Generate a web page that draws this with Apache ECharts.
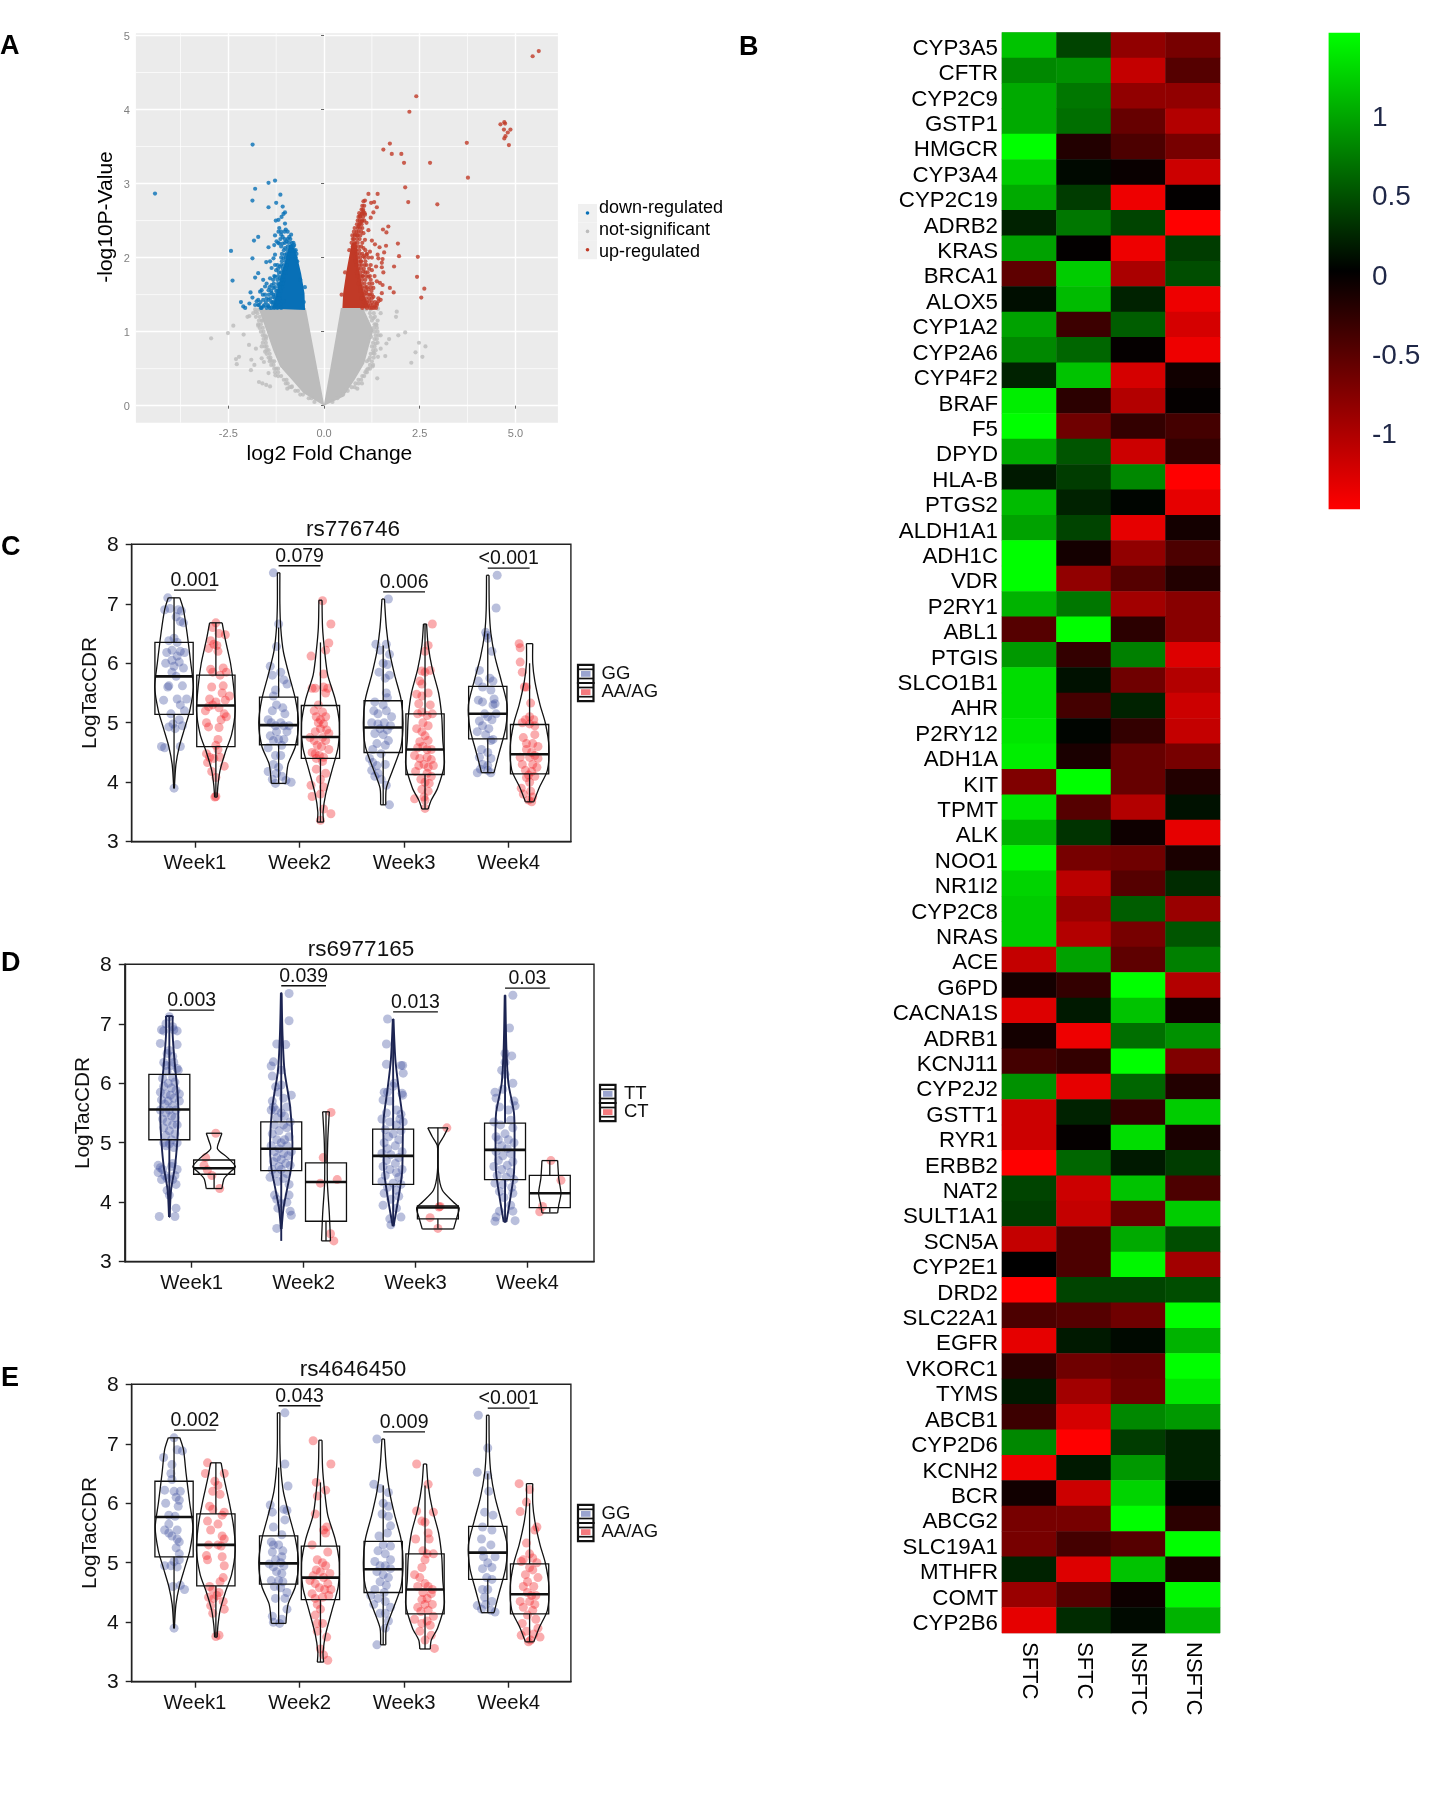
<!DOCTYPE html>
<html><head><meta charset="utf-8">
<script src="https://cdn.jsdelivr.net/npm/echarts@6/dist/echarts.min.js"></script>
<style>html,body{margin:0;padding:0;background:#fff}#c{width:1451px;height:1795px}</style></head>
<body><div id="c"></div>
<script>
// ---------- Panel A data (log2FC, -log10P) ----------
const volcanoXTicks=[-2.5,0,2.5,5];
const volcanoYTicks=[0,1,2,3,4,5];
const volcanoMinorX=[-3.75,-1.25,1.25,3.75];
const volcanoMinorY=[0.5,1.5,2.5,3.5,4.5];
const volcanoNames=['down-regulated','not-significant','up-regulated'];
const grayMass=[[0,0],[-.54,.17],[-.84,.35],[-1.15,.53],[-1.33,.75],[-1.51,1.02],[-1.7,1.3],[-.476,1.32],[0,0.02],[.44,1.32],[1.02,1.32],[1.29,1.02],[1.17,.8],[1.05,.57],[.8,.35],[.5,.12]];
const blueMass=[[-.496,1.293],[-.51,1.52],[-.6,1.79],[-.71,2.03],[-.83,2.19],[-.91,2.17],[-1,1.97],[-1.11,1.79],[-1.2,1.61],[-1.28,1.45],[-1.36,1.31]];
const redMass=[[.48,1.32],[.5,1.52],[.59,1.83],[.72,2.19],[.85,2.22],[.9,1.88],[.98,1.65],[1.07,1.47],[1.2,1.32]];
const grayPts=[[-2.95,.91],[-2.51,.98],[-2.37,1.08],[-2.1,.96],[-2,1.2],[-1.95,1.21],[-1.78,1.27],[-1.96,.82],[-1.78,.77],[-2.22,.66],[-2.3,.63],[-2.28,.56],[-1.9,.62],[-1.82,.55],[-1.91,.48],[-1.7,.32],[-1.61,.3],[-1.51,.28],[-1.41,.26],[-1.57,.59],[-1.63,.64],[-1.45,.44],[-1.27,.41],[-.96,.23],[-.84,.26],[-1.2,.5],[-1.63,.8],[-1.54,.73],[-1.51,.93],[-1.62,1.15],[-1.4,.62],[-1.3,.6],[-1.72,1.08],[1.9,1.27],[1.88,1.2],[2.12,.99],[1.94,.95],[2.48,.85],[2.65,.8],[2.39,.72],[2.57,.66],[2.28,.58],[1.39,.37],[1.6,.67],[1.7,.9],[1.63,.84],[1.48,.77],[1.29,.71],[1.48,.95],[1.37,1.09],[1.23,.93],[1.35,.84],[1.17,.62],[1.27,.53],[1.11,.48],[.99,.3],[.87,.23],[1.41,.66],[1.29,1.18],[1.48,1.25],[1.41,1.31]];
const bluePts=[[-4.416,2.865],[-1.866,3.527],[-1.28,3.04],[-1.45,3.01],[-1.8,2.93],[-1.14,2.85],[-1.87,2.77],[-1.25,2.74],[-1.45,2.68],[-1.08,2.69],[-1.02,2.61],[-1.06,2.59],[-1.11,2.55],[-1.19,2.51],[-1.26,2.5],[-1.02,2.46],[-1,2.38],[-1.17,2.4],[-1.19,2.35],[-.86,2.31],[-.91,2.28],[-1.12,2.31],[-1.08,2.28],[-1.72,2.28],[-1.83,2.23],[-1.28,2.3],[-1.24,2.22],[-1.3,2.17],[-1.17,2.19],[-1.08,2.19],[-1.45,2.14],[-2.43,2.09],[-1.02,2.13],[-1.28,2.04],[-1.32,1.99],[-1.87,1.99],[-1.06,1.99],[-1.41,1.95],[-1.51,1.94],[-1.28,1.9],[-1.37,1.86],[-1.15,1.88],[-1.25,1.83],[-1.72,1.79],[-1.06,1.81],[-1.8,1.73],[-2.39,1.69],[-1.59,1.7],[-1.28,1.74],[-1.15,1.72],[-1.41,1.72],[-1.5,1.65],[-1.37,1.63],[-1.54,1.61],[-1.19,1.63],[-1.63,1.56],[-1.45,1.56],[-1.32,1.59],[-1.92,1.53],[-1.67,1.54],[-1.37,1.52],[-1.87,1.46],[-1.54,1.5],[-1.32,1.47],[-1.72,1.43],[-2.17,1.4],[-1.76,1.41],[-1.59,1.43],[-1.45,1.43],[-1.24,1.41],[-1.95,1.38],[-1.8,1.36],[-2.11,1.34],[-2.06,1.32],[-1.72,1.36],[-1.59,1.34],[-1.63,1.32],[-1.45,1.34],[-1.37,1.32],[-1.5,1.32],[-1.28,1.34],[-1.15,1.36],[-1.06,1.41],[-.98,2.22],[-.78,2.17],[-.76,2.08],[-.89,2.1],[-1.02,2.04],[-.97,1.9],[-1.02,1.85],[-1.1,1.66],[-1.2,1.5],[-1.35,1.4],[-.94,2.0],[-.7,1.95],[-.62,1.7],[-.53,1.4],[-.5,1.6]];
const redPts=[[5.61,4.79],[5.45,4.72],[2.41,4.18],[2.23,3.97],[4.71,3.83],[4.73,3.81],[4.61,3.8],[4.87,3.73],[4.7,3.73],[4.8,3.69],[4.74,3.64],[4.71,3.61],[4.83,3.52],[3.73,3.55],[1.72,3.54],[1.55,3.46],[1.77,3.4],[2.02,3.4],[2.09,3.28],[2.77,3.28],[3.76,3.08],[2.12,2.95],[1.16,2.86],[1.4,2.86],[2.2,2.75],[2.96,2.72],[1.07,2.77],[1.03,2.76],[1.23,2.74],[1.31,2.75],[1.38,2.68],[1.29,2.61],[1.03,2.62],[.98,2.59],[.94,2.56],[1.07,2.58],[1.22,2.54],[.99,2.49],[.94,2.46],[.9,2.42],[1.11,2.47],[1.68,2.42],[1.54,2.38],[1.63,2.34],[1.16,2.37],[.85,2.35],[.81,2.31],[1.03,2.33],[1.07,2.24],[1.25,2.23],[1.33,2.18],[1.45,2.14],[1.62,2.16],[1.93,2.19],[1.57,2.07],[1.96,2.02],[1.2,2.08],[1.03,2.13],[2.45,2.01],[1.4,2.04],[1.53,1.98],[1.25,2],[1.11,2.04],[1.42,1.99],[1.03,2.02],[1.51,1.93],[1.36,1.88],[1.25,1.83],[1.83,1.88],[1.51,1.87],[1.11,1.9],[1.55,1.8],[1.32,1.75],[2.43,1.74],[1.03,1.81],[1.16,1.74],[1.38,1.68],[1.18,1.65],[1.46,1.66],[1.53,1.63],[1.29,1.59],[1.16,1.57],[1.72,1.59],[1.82,1.53],[2.62,1.58],[2.54,1.46],[1.51,1.52],[1.42,1.45],[1.2,1.5],[1.29,1.47],[1.1,1.52],[1.48,1.43],[1.18,1.41],[1.38,1.38],[1.33,1.34],[1.25,1.32],[1.16,1.36],[1.03,1.41],[1.42,1.41],[1.07,1.34],[.93,2.05],[.96,1.95],[1,1.75],[1.08,1.6],[.88,2.3],[.75,2.25],[.66,2.1],[.55,1.8],[.46,1.5]];
// dense fringes, one row per level: [-log10P, log2FC, log2FC, ...]
const blueRows=[[1.32,-1.3,-1.22,-1.12,-1.65,-1.42],[1.36,-1.33,-1.47,-1.56,-1.7],[1.4,-1.38,-1.3,-1.2,-1.52,-1.66],[1.45,-1.28,-1.17,-1.4,-1.5],[1.5,-1.26,-1.16,-1.33,-1.44,-1.6],[1.55,-1.25,-1.13,-1.38,-1.22],[1.6,-1.1,-1.17,-1.28,-1.42],[1.65,-1.08,-1.2,-1.31,-1.14],[1.7,-1.22,-1.06,-1.12,-1.33],[1.75,-1.05,-1.1,-1.2,-1.3],[1.8,-1,-1.12,-1.18],[1.85,-1.01,-1.08,-1.2],[1.9,-.98,-1.05,-1.12,-1.22],[1.95,-.96,-1,-1.1],[2,-.95,-1,-1.12,-.74],[2.05,-.92,-.97,-1.1,-.72],[2.1,-.85,-.95,-1.05,-.79,-.74],[2.15,-.8,-.87,-.95,-1.12],[2.2,-.84,-.92,-1.02,-1.2,-.8],[2.25,-.88,-.95,-1.03,-1.14],[2.35,-1.03,-1.12,-.95]];
const redRows=[[1.32,1.12,1.3,1.36,1.2,1],[1.36,1.1,1.22,1.28,1.38],[1.4,1.05,1.12,1.25,1.33],[1.45,1.1,1.18,1.25,.98],[1.5,1,1.05,1.15,1.25],[1.55,.95,1.03,1.1,1.24],[1.6,.95,1,1.12,1.22],[1.65,.9,.98,1.06,1.26],[1.7,.92,1,1.08,1.22],[1.75,.88,.95,1.02,1.1,1.2],[1.8,.86,.95,1.08,1.14],[1.85,.9,.96,1.04,1.18],[1.9,.85,.93,.98,1.06,1.22],[1.95,.82,.9,.97,1.08],[2,.82,.88,.95,1.06,1.16],[2.05,.8,.86,1,1.12],[2.1,.78,.84,.92,1.08],[2.15,.75,.82,.9,.97],[2.2,.72,.8,.88,1],[2.25,.78,.86,.93],[2.3,.74,.8,.87,.95],[2.35,.78,.9,.97],[2.4,.8,.88,.94,1],[2.45,.86,.92,.98],[2.5,.88,.93,1,1.05],[2.55,.9,.95,1.02],[2.6,.92,1,1.06],[2.65,.98,1.02],[2.7,1,1.05]];
const grayRows=[[.05,-.25,.22],[.1,-.4,.35,-.33],[.15,-.62,.5,-.55],[.2,-.75,.62,-.68,.55],[.25,-.85,.72,-.9,.8],[.3,-1,.82,-.95,.9],[.35,-1.05,.9,-.98,.97],[.4,-1.12,1,-1.2,1.05],[.45,-1.2,1.08,-1.28,1.12],[.5,-1.25,1.15,-1.3,1.2],[.55,-1.32,1.2,-1.38,1.28],[.6,-1.35,1.25,-1.42,1.12],[.65,-1.4,1.3,-1.45,1.2],[.7,-1.42,1.22,-1.5,1.32],[.75,-1.45,1.28,-1.5,1.35],[.8,-1.5,1.25,-1.55,1.32],[.85,-1.52,1.28,-1.6,1.4],[.9,-1.58,1.32,-1.52,1.38],[.95,-1.6,1.35,-1.55,1.42],[1,-1.58,1.32,-1.65,1.4],[1.05,-1.6,1.3,-1.68,1.38],[1.1,-1.65,1.32,-1.72,1.36],[1.15,-1.7,1.25,-1.62,1.4],[1.2,-1.78,1.22,-1.68,1.33],[1.25,-1.74,1.2,-1.85,1.3],[1.3,-1.8,1.22,-1.7,1.1]];

// ---------- Panel B data ----------
const genes=['CYP3A5','CFTR','CYP2C9','GSTP1','HMGCR','CYP3A4','CYP2C19','ADRB2','KRAS','BRCA1','ALOX5','CYP1A2','CYP2A6','CYP4F2','BRAF','F5','DPYD','HLA-B','PTGS2','ALDH1A1','ADH1C','VDR','P2RY1','ABL1','PTGIS','SLCO1B1','AHR','P2RY12','ADH1A','KIT','TPMT','ALK','NOO1','NR1I2','CYP2C8','NRAS','ACE','G6PD','CACNA1S','ADRB1','KCNJ11','CYP2J2','GSTT1','RYR1','ERBB2','NAT2','SULT1A1','SCN5A','CYP2E1','DRD2','SLC22A1','EGFR','VKORC1','TYMS','ABCB1','CYP2D6','KCNH2','BCR','ABCG2','SLC19A1','MTHFR','COMT','CYP2B6'];
const sampleNames=['SFTC','SFTC ','NSFTC','NSFTC '];
const heatValues=[[1.15,.4,-.85,-.7],[.8,.85,-1.15,-.5],[1,.7,-.85,-.85],[1,.65,-.6,-1.05],[1.5,-.2,-.45,-.7],[1.2,.05,-.05,-1.2],[1,.35,-1.4,-.02],[.2,.7,.4,-1.5],[.95,-.02,-1.4,.35],[-.55,1.2,-1,.45],[.08,1.1,.2,-1.4],[.95,-.35,.55,-1.25],[.8,.6,-.03,-1.4],[.2,1.15,-1.25,-.1],[1.4,-.25,-1.05,-.03],[1.5,-.65,-.3,-.4],[1,.5,-1.2,-.3],[.15,.35,.8,-1.5],[1.1,.2,.03,-1.35],[.95,.4,-1.35,-.12],[1.5,-.12,-.85,-.45],[1.5,-.85,-.5,-.2],[1.05,.7,-.95,-.8],[-.5,1.5,-.25,-.8],[.9,-.3,.75,-1.3],[1.3,.1,-.65,-1.05],[1.3,-.4,.2,-1.2],[1.35,.03,-.3,-1.15],[1.4,-.15,-.6,-.7],[-.75,1.5,-.6,-.2],[1.35,-.5,-1.05,.1],[1.05,.3,-.08,-1.35],[1.45,-.7,-.65,-.15],[1.25,-1.1,-.5,.25],[1.2,-.9,.55,-.9],[1.2,-1.05,-.7,.5],[-1.15,.95,-.55,.75],[-.12,-.3,1.5,-1.05],[-1.3,.15,1.15,-.1],[-.12,-1.4,.65,.85],[-.4,-.3,1.5,-.75],[.85,-1.35,.6,-.2],[-1.2,.2,-.3,1.2],[-1.2,-.03,1.3,-.15],[-1.5,.6,.15,.35],[.4,-1.2,1.15,-.45],[.35,-1.15,-.6,1.2],[-1.15,-.45,1,.45],[0,-.45,1.45,-.95],[-1.5,.4,.4,.45],[-.45,-.5,-.65,1.5],[-1.35,.15,.05,1.05],[-.25,-.65,-.6,1.5],[.15,-.95,-.65,1.35],[-.35,-1.25,.8,.9],[.8,-1.5,.35,.2],[-1.4,.15,.9,.2],[-.1,-1.2,1.25,.03],[-.7,-.7,1.5,-.25],[-.7,-.4,-.5,1.5],[.2,-1.3,1.15,-.15],[-.9,-.5,-.08,1.45],[-1.35,.25,.06,1.05]];
const colorbarTicks=[-1,-.5,0,.5,1];
const colorbarRange=[-1.49,1.52];

// ---------- Panels C, D, E data ----------
const weeks=['Week1','Week2','Week3','Week4'];
const cTitle='rs776746', dTitle='rs6977165', eTitle='rs4646450';
const cGroups=['GG','AA/AG'], dGroups=['TT','CT'], eGroups=['GG','AA/AG'];
const cPLabels=['0.001','0.079','0.006','<0.001'];
const dPLabels=['0.003','0.039','0.013','0.03'];
const ePLabels=['0.002','0.043','0.009','<0.001'];
const pLineLevels=[7.23,7.64,7.2,7.6];
// box summaries: [low whisker, q1, median, q3, high whisker], order W1a,W1b,W2a,W2b...
const cBoxes=[[3.9,5.14,5.78,6.35,7.1],[3.76,4.6,5.29,5.8,6.68],[3.98,4.63,4.96,5.43,6.6],[3.33,4.4,4.76,5.29,6.35],[3.62,4.5,4.92,5.37,6.3],[3.55,4.13,4.55,5.15,6.66],[4.16,4.73,5.15,5.61,6.5],[3.67,4.14,4.47,4.97,6.0]];
const dBoxes=[[3.75,5.05,5.56,6.15,7.12],[4.23,4.47,4.57,4.71,4.71],[3.35,4.53,4.9,5.35,7.5],[3.35,3.68,4.34,4.66,5.52],[3.6,4.3,4.78,5.23,7.08],[3.56,3.72,3.91,3.94,5.25],[3.67,4.38,4.88,5.33,7.48],[3.83,3.91,4.15,4.45,4.7]];
const eBoxes=[[3.9,5.1,5.77,6.37,7.1],[3.76,4.61,5.3,5.82,6.68],[3.98,4.64,4.99,5.45,6.6],[3.33,4.38,4.75,5.28,6.35],[3.62,4.5,4.89,5.36,6.3],[3.55,4.14,4.55,5.15,6.3],[4.16,4.72,5.17,5.61,6.5],[3.67,4.14,4.47,4.98,6.0]];
// violin outlines: [value, half width]
const cViolins=[
[[7.1,.055],[6.9,.09],[6.5,.125],[6,.16],[5.6,.185],[5.2,.15],[4.9,.1],[4.6,.05],[4.3,.018],[3.9,.003]],
[[6.68,.06],[6.4,.09],[6,.14],[5.6,.17],[5.2,.185],[4.8,.15],[4.5,.09],[4.2,.04],[3.95,.02],[3.75,.012]],
[[7.52,.012],[7,.012],[6.6,.02],[6.2,.045],[5.8,.1],[5.4,.16],[5,.19],[4.6,.16],[4.3,.09],[3.98,.07]],
[[7.06,.015],[6.6,.02],[6.2,.04],[5.8,.07],[5.4,.14],[5,.18],[4.6,.17],[4.2,.11],[3.8,.05],[3.5,.025],[3.33,.03]],
[[7.08,.012],[6.6,.03],[6.2,.06],[5.8,.11],[5.4,.17],[5,.19],[4.6,.17],[4.2,.09],[3.9,.03],[3.62,.025]],
[[6.66,.015],[6.3,.03],[5.9,.07],[5.5,.13],[5.1,.16],[4.7,.17],[4.3,.185],[3.9,.12],[3.7,.06],[3.55,.03]],
[[7.48,.012],[6.9,.015],[6.5,.03],[6.1,.07],[5.7,.13],[5.3,.185],[4.9,.17],[4.5,.11],[4.3,.08],[4.16,.06]],
[[6.33,.03],[6,.03],[5.7,.05],[5.3,.1],[5,.15],[4.6,.185],[4.2,.17],[3.9,.09],[3.67,.04]]];
const dViolins=[
[[7.13,.03],[6.8,.03],[6.3,.05],[5.8,.075],[5.4,.08],[5,.07],[4.6,.05],[4.2,.015],[3.75,.003]],
[[5.16,.07],[5.05,.05],[4.9,.03],[4.75,.12],[4.6,.19],[4.5,.14],[4.4,.09],[4.23,.07]],
[[7.52,.003],[6.8,.012],[6.2,.03],[5.6,.08],[5,.1],[4.6,.09],[4.2,.05],[3.9,.02],[3.55,.003]],
[[5.52,.03],[5,.015],[4.35,.012],[3.8,.03],[3.35,.04]],
[[7.08,.003],[6.4,.02],[5.9,.05],[5.4,.085],[4.9,.085],[4.5,.08],[4.1,.05],[3.6,.004]],
[[5.25,.09],[5.1,.05],[4.95,.005],[4.5,.005],[4.2,.04],[4,.14],[3.9,.19],[3.75,.17],[3.55,.14]],
[[7.48,.003],[6.6,.012],[6,.03],[5.5,.08],[5,.085],[4.5,.08],[4.1,.05],[3.67,.012]],
[[4.7,.07],[4.4,.08],[4.15,.1],[3.95,.08],[3.82,.07]]];
const eViolins=[
[[7.1,.055],[6.9,.09],[6.5,.115],[6,.15],[5.6,.18],[5.2,.15],[4.9,.1],[4.6,.05],[4.3,.018],[3.9,.003]],
[[6.68,.05],[6.4,.08],[6,.13],[5.6,.17],[5.2,.185],[4.8,.15],[4.5,.09],[4.2,.04],[3.95,.02],[3.75,.012]],
[[7.52,.012],[7,.012],[6.6,.02],[6.2,.045],[5.8,.1],[5.4,.16],[5,.19],[4.6,.16],[4.3,.09],[3.98,.07]],
[[7.06,.015],[6.6,.02],[6.2,.04],[5.8,.07],[5.4,.14],[5,.18],[4.6,.17],[4.2,.11],[3.8,.05],[3.5,.025],[3.33,.03]],
[[7.08,.012],[6.6,.03],[6.2,.06],[5.8,.11],[5.4,.17],[5,.19],[4.6,.17],[4.2,.09],[3.9,.03],[3.62,.025]],
[[6.66,.015],[6.3,.03],[5.9,.07],[5.5,.13],[5.1,.16],[4.7,.17],[4.3,.185],[3.9,.12],[3.7,.06],[3.55,.05]],
[[7.48,.012],[6.9,.015],[6.5,.03],[6.1,.07],[5.7,.13],[5.3,.185],[4.9,.17],[4.5,.11],[4.3,.08],[4.16,.06]],
[[6.33,.03],[6,.03],[5.7,.05],[5.3,.1],[5,.15],[4.6,.185],[4.2,.17],[3.9,.09],[3.67,.04]]];
// patient points: [jitter in week units, LogTacCDR]
const cPoints=[
[[-.06,7.1],[-.09,6.9],[-.04,6.92],[.04,6.9],[.07,6.88],[.02,6.78],[.09,6.68],[.06,6.7],[0,6.42],[-.05,6.38],[.03,6.35],[-.02,6.22],[.06,6.2],[.1,6.18],[-.07,6.18],[.03,6.12],[-.02,6.05],[.05,6.02],[-.08,6],[0,5.95],[.09,5.92],[-.05,5.62],[-.06,5.6],[.08,5.62],[.12,5.4],[.03,5.4],[-.1,5.38],[.06,5.3],[.1,5.2],[-.03,5.15],[-.01,4.98],[-.05,4.93],[.01,4.9],[.08,4.95],[.05,5.05],[-.12,4.6],[-.09,4.58],[.06,4.6],[0,3.9],[-.02,5.85],[.02,5.78]],
[[0,6.68],[-.03,6.6],[.09,6.48],[.03,6.5],[-.05,6.38],[-.02,6.32],[.01,6.3],[-.07,6.25],[.02,6.2],[-.05,5.9],[-.03,5.85],[.1,5.85],[.07,5.92],[.04,5.8],[-.04,5.6],[.07,5.62],[.06,5.5],[.13,5.45],[.09,5.38],[-.06,5.4],[0,5.35],[-.03,5.3],[-.07,5.27],[-.1,5.2],[.03,5.25],[.08,5.15],[.1,5.1],[-.09,5],[-.07,4.93],[.05,5.05],[.03,4.92],[.02,4.72],[0,4.62],[.02,4.55],[-.09,4.48],[-.06,4.42],[-.02,4.4],[.04,4.42],[-.08,4.33],[.08,4.27],[-.04,4.18],[0,4.08],[0,3.76],[-.01,3.75]],
[[-.05,7.52],[0,6.66],[-.02,6.28],[-.08,5.95],[-.06,5.8],[.02,5.85],[.05,5.72],[.08,5.65],[-.03,5.55],[-.05,5.45],[-.02,5.3],[-.06,5.2],[.04,5.25],[.06,5.15],[-.1,5.05],[-.07,5],[-.03,4.95],[.02,5],[.05,4.95],[.1,4.95],[.08,4.85],[-.02,4.85],[-.08,4.78],[-.05,4.7],[0,4.72],[.05,4.72],[.03,4.62],[-.1,4.58],[-.03,4.45],[.02,4.45],[-.05,4.3],[0,4.25],[-.1,4.18],[-.02,4.15],[.03,4.1],[-.06,4.05],[.07,4.03],[.12,4],[-.03,3.98]],
[[.02,7.05],[.1,6.66],[.08,6.34],[.05,6.22],[-.09,6.12],[.03,5.82],[-.08,5.58],[-.05,5.58],[.03,5.6],[.07,5.58],[.05,5.5],[-.02,5.3],[-.06,5.2],[-.04,5.1],[.02,5.18],[.05,5.1],[0,5.05],[-.02,5],[.03,4.98],[0,4.9],[.06,4.88],[.08,4.82],[-.05,4.85],[-.1,4.75],[-.06,4.7],[.02,4.75],[.05,4.7],[-.03,4.62],[.01,4.6],[.08,4.55],[-.08,4.5],[-.05,4.48],[-.01,4.45],[.03,4.42],[-.04,4.4],[.02,4.35],[-.04,4.22],[.05,4.15],[0,4.05],[-.09,3.95],[.03,3.92],[-.08,3.76],[0,3.8],[.03,3.55],[.1,3.47],[0,3.36]],
[[.05,7.08],[-.07,6.32],[.03,6.32],[-.03,6.22],[.06,6.15],[0,6],[.04,5.98],[-.04,5.85],[.06,5.8],[.02,5.75],[.03,5.5],[.04,5.42],[-.08,5.35],[0,5.3],[-.09,5.2],[-.05,5.15],[.03,5.2],[.08,5.1],[-.11,5],[-.05,4.98],[.01,5],[.07,4.95],[-.03,4.9],[.04,4.88],[-.08,4.82],[0,4.8],[.05,4.7],[-.06,4.65],[.02,4.62],[-.1,4.55],[-.02,4.48],[-.13,4.4],[-.1,4.33],[-.06,4.28],[.02,4.3],[-.11,4.2],[-.05,4.15],[-.08,4.1],[-.02,4.05],[.03,3.95],[.06,3.62]],
[[.07,6.66],[.03,6.3],[0,6.2],[-.03,5.87],[0,5.85],[.05,5.88],[-.05,5.7],[-.03,5.65],[-.08,5.48],[-.03,5.45],[.03,5.5],[-.06,5.32],[.05,5.3],[-.07,5.15],[-.03,5.18],[.02,5.12],[.07,5.15],[-.02,5],[.03,4.95],[-.08,4.9],[-.03,4.85],[0,4.78],[-.05,4.68],[.03,4.7],[-.07,4.58],[-.02,4.6],[.02,4.55],[.06,4.55],[-.1,4.45],[-.05,4.4],[.02,4.42],[.06,4.38],[-.06,4.28],[-.01,4.3],[.03,4.25],[.08,4.28],[-.09,4.18],[.02,4.15],[.06,4.1],[-.04,4.05],[0,4],[.04,3.98],[-.03,3.88],[.03,3.85],[-.1,3.72],[-.01,3.75],[0,3.7],[0,3.56]],
[[.09,7.48],[.08,6.93],[-.02,6.52],[-.01,6.47],[0,6.42],[.04,6.2],[-.08,5.88],[-.09,5.7],[.02,5.75],[.05,5.7],[-.05,5.6],[.03,5.55],[.06,5.4],[-.09,5.38],[.07,5.32],[.05,5.3],[-.05,5.35],[-.03,5.15],[0,5.1],[.08,5.15],[.04,5.05],[-.08,5.03],[-.05,4.95],[.01,4.9],[-.1,4.85],[-.02,4.8],[.03,4.7],[.05,4.72],[-.06,4.55],[0,4.5],[.03,4.4],[-.08,4.42],[-.05,4.3],[0,4.28],[-.1,4.16],[0,4.2],[.03,4.16],[-.07,4.22]],
[[-.1,6.33],[-.09,6.26],[-.09,6.02],[-.07,5.85],[-.05,5.6],[-.03,5.6],[.01,5.33],[0,5.1],[-.04,5.05],[.04,5.05],[.05,4.95],[-.07,5],[0,4.98],[.05,4.8],[-.06,4.75],[-.03,4.65],[.03,4.65],[.08,4.6],[-.03,4.55],[.02,4.5],[.05,4.45],[-.09,4.42],[0,4.42],[.08,4.4],[-.07,4.3],[.03,4.3],[.07,4.25],[-.04,4.2],[.02,4.18],[-.01,4.12],[-.03,4.08],[.05,4.1],[0,4],[-.08,3.9],[.01,3.85],[-.06,3.8],[.03,3.75],[-.01,3.7],[.02,3.67]]];
const dPoints=[
[[0,7.12],[-.03,7],[.03,6.95],[-.07,6.9],[-.05,6.88],[.04,6.9],[.07,6.88],[-.08,6.67],[.07,6.65],[0,6.55],[-.02,6.5],[.03,6.45],[-.05,6.35],[-.03,6.3],[.02,6.3],[.04,6.35],[.07,6.25],[.08,6.22],[-.02,6.2],[.03,6.1],[-.06,6.08],[.05,6.02],[-.01,6],[-.05,5.95],[.02,5.92],[.06,5.88],[-.08,5.85],[.09,5.82],[-.03,5.82],[.01,5.8],[.04,5.75],[-.07,5.72],[-.01,5.7],[.09,5.7],[-.04,5.65],[.03,5.62],[.06,5.55],[-.08,5.55],[0,5.55],[-.03,5.5],[.02,5.45],[.05,5.42],[-.06,5.4],[-.02,5.35],[.03,5.3],[.07,5.3],[-.05,5.25],[0,5.2],[.05,5.15],[-.03,5.12],[.02,5.05],[-.05,5],[.07,5],[0,4.98],[-.03,4.95],[.04,4.92],[-.1,4.62],[-.08,4.58],[-.06,4.55],[-.1,4.5],[.02,4.6],[.07,4.55],[.05,4.45],[-.07,4.38],[-.02,4.4],[.03,4.38],[.06,4.3],[-.02,4.2],[0,4.12],[.06,3.9],[-.09,3.76],[.05,3.76],[.03,4.65],[-.04,4.45]],
[[-.075,4.75],[-.09,4.62],[-.06,4.54],[-.02,4.45],[.05,4.23],[.015,5.16]],
[[.07,7.51],[.07,7.05],[-.04,6.66],[.04,6.65],[-.07,6.36],[-.09,6.29],[-.08,6.12],[0,6.22],[-.05,5.94],[0,5.97],[.09,5.8],[-.08,5.7],[-.03,5.85],[.02,5.75],[-.07,5.6],[-.05,5.55],[.05,5.6],[-.09,5.55],[0,5.5],[.03,5.45],[-.04,5.42],[.08,5.35],[-.06,5.3],[.02,5.3],[.05,5.25],[-.02,5.2],[-.08,5.15],[.07,5.1],[.03,5.05],[-.04,5.05],[0,5],[-.09,4.95],[.05,4.95],[-.02,4.9],[.09,4.85],[-.06,4.85],[.02,4.82],[-.04,4.75],[.06,4.78],[0,4.72],[-.07,4.68],[.04,4.65],[-.02,4.6],[.08,4.62],[-.08,4.55],[0,4.55],[-.05,4.48],[.05,4.48],[-.1,4.42],[.02,4.4],[-.03,4.35],[.07,4.3],[-.06,4.12],[.07,4.12],[-.04,4.05],[0,3.98],[.05,4],[.08,3.85],[.09,3.78],[-.03,3.9],[-.04,3.56]],
[[.045,5.51],[-.025,4.75],[-.05,4.32],[.1,4.38],[.04,3.47],[.07,3.35]],
[[-.05,7.08],[-.06,6.66],[.085,6.3],[.07,6.3],[-.06,6.32],[.09,6.17],[.01,6],[0,5.95],[-.08,5.85],[-.09,5.72],[-.05,5.85],[.08,5.83],[.085,5.8],[-.03,5.7],[.03,5.55],[.07,5.48],[-.06,5.5],[-.1,5.4],[.06,5.4],[.09,5.35],[-.03,5.35],[.03,5.3],[-.07,5.22],[.07,5.2],[0,5.15],[-.04,5.1],[.05,5.05],[-.08,5],[.02,4.95],[-.05,4.9],[.08,4.85],[-.1,4.82],[-.02,4.8],[.05,4.75],[-.06,4.7],[.02,4.65],[-.09,4.6],[.08,4.55],[-.03,4.55],[.03,4.5],[-.07,4.45],[.05,4.42],[-.1,4.35],[0,4.32],[.07,4.3],[-.05,4.25],[.03,4.2],[-.08,4.15],[.05,4.1],[-.02,4.05],[-.09,3.95],[.03,3.9],[.07,3.75],[-.03,3.72],[-.02,3.62]],
[[.08,5.25],[.02,3.93],[.01,3.92],[-.07,3.74],[0,3.56]],
[[.07,7.48],[.04,6.93],[0,6.5],[.06,6.46],[0,6.35],[-.03,6.22],[0,6.15],[.07,6],[-.09,5.85],[-.08,5.75],[-.02,5.9],[.08,5.7],[.09,5.62],[-.05,5.6],[.03,5.55],[-.1,5.35],[.05,5.38],[-.04,5.3],[.07,5.25],[-.08,5.1],[0,5.15],[.03,5.05],[-.06,5.05],[.08,5],[-.03,4.95],[.02,4.9],[-.08,4.85],[.05,4.82],[-.02,4.78],[-.06,4.7],[.07,4.68],[.02,4.62],[-.1,4.6],[-.03,4.55],[.05,4.5],[-.07,4.45],[.01,4.42],[.08,4.38],[-.09,4.32],[-.02,4.3],[.06,4.25],[-.05,4.18],[.07,4.15],[-.01,4.08],[.05,3.95],[.07,3.85],[-.05,3.85],[-.08,3.75],[-.09,3.68],[.09,3.69]],
[[.01,4.7],[.1,4.37],[-.065,3.93],[-.09,3.84]]];
const ePoints=[
[[0,7.1],[.03,6.9],[.08,6.88],[-.1,6.77],[-.02,6.65],[-.03,6.5],[-.02,6.4],[-.09,6.22],[0,6.2],[.06,6.2],[.02,6.1],[.05,6.05],[-.08,6],[.04,5.95],[-.09,5.55],[-.05,5.5],[.03,5.55],[-.02,5.45],[.03,5.4],[.05,5.35],[.02,5.25],[.05,5.15],[0,5.02],[.05,5.05],[-.09,4.95],[-.03,4.95],[.03,4.93],[.1,4.55],[-.01,4.6],[0,3.9],[-.05,5.8],[.01,5.78],[.06,4.62],[-.05,5.65]],
[[-.08,6.68],[-.1,6.5],[.08,6.5],[-.01,6.37],[.02,6.3],[-.03,6.2],[.04,6.15],[-.06,5.95],[-.03,5.9],[.08,5.85],[.06,5.8],[-.08,5.7],[.02,5.65],[-.05,5.55],[.06,5.45],[.08,5.4],[-.07,5.3],[.02,5.3],[.05,5.28],[-.09,5.12],[-.08,5.05],[.08,4.95],[.06,5.1],[.07,4.75],[.04,4.68],[-.06,4.6],[-.03,4.55],[.03,4.5],[-.07,4.42],[-.02,4.4],[.01,4.45],[.07,4.35],[-.05,4.28],[.08,4.22],[-.03,4.15],[.03,3.78],[0,3.76]],
[[.06,7.52],[.06,6.66],[.09,6.29],[-.08,5.97],[-.06,5.85],[.05,5.9],[.08,5.88],[.06,5.72],[-.05,5.6],[.03,5.47],[-.07,5.35],[-.05,5.3],[0,5.3],[.04,5.2],[-.06,5.18],[.03,5.1],[-.03,5.05],[.02,5],[-.09,4.98],[-.05,4.93],[.05,4.95],[-.02,4.85],[.03,4.82],[-.07,4.7],[0,4.7],[.04,4.68],[-.04,4.6],[.02,4.58],[.08,4.5],[-.03,4.4],[.06,4.4],[.08,4.22],[-.06,4.1],[-.05,4],[.01,3.98],[.03,4.05]],
[[-.07,7.05],[.1,6.66],[-.04,6.35],[.05,6.22],[-.03,6.12],[-.05,5.82],[.03,5.55],[.06,5.6],[.05,5.5],[-.08,5.3],[.07,5.18],[-.03,5.05],[.02,5],[.05,4.95],[-.04,4.88],[0,4.85],[.09,4.82],[-.07,4.78],[.03,4.75],[-.1,4.7],[-.05,4.65],[.07,4.65],[-.01,4.58],[.04,4.55],[-.08,4.48],[.08,4.45],[-.05,4.4],[.02,4.42],[.1,4.55],[-.03,4.3],[0,4.22],[-.05,4.12],[-.03,3.98],[.02,3.98],[-.03,3.85],[.06,3.75],[0,3.55],[.07,3.36],[.03,3.45]],
[[-.06,7.08],[-.09,6.32],[-.03,6.25],[.05,6.18],[0,6],[.05,5.95],[-.01,5.82],[.05,5.78],[.07,5.62],[.04,5.5],[-.04,5.45],[0,5.3],[.07,5.28],[-.05,5.2],[.02,5.15],[.07,5.05],[-.08,5.02],[-.03,4.95],[.02,4.95],[.07,4.9],[-.06,4.85],[0,4.8],[.05,4.75],[-.03,4.68],[.03,4.62],[-.08,4.55],[.01,4.5],[-.12,4.45],[-.05,4.4],[.02,4.35],[-.09,4.3],[.07,4.25],[-.03,4.15],[.02,4.15],[.05,4.02],[.02,3.9],[-.06,3.62]],
[[-.08,6.66],[.03,6.32],[-.08,5.87],[.08,5.85],[-.03,5.7],[0,5.68],[.03,5.5],[-.09,5.4],[.04,5.4],[-.02,5.2],[.02,5.15],[.08,5.15],[0,5.05],[-.03,4.92],[-.1,4.8],[-.05,4.75],[0,4.65],[-.07,4.6],[.03,4.6],[.07,4.55],[-.02,4.5],[.06,4.48],[.02,4.4],[-.03,4.38],[0,4.3],[.07,4.3],[-.07,4.25],[.03,4.2],[-.04,4.18],[.08,4.1],[-.1,4.05],[.02,4.02],[-.03,3.98],[.05,3.95],[-.05,3.85],[.06,3.78],[0,3.7],[.09,3.56]],
[[-.09,7.48],[0,6.93],[-.1,6.52],[0,6.47],[.01,6.2],[-.03,5.85],[.05,5.8],[-.05,5.6],[.04,5.55],[-.06,5.4],[.03,5.3],[-.05,5.2],[.07,5.1],[-.04,5.1],[0,5],[-.05,4.9],[.04,4.92],[-.01,4.75],[.04,4.72],[-.05,4.55],[0,4.55],[-.03,4.42],[.04,4.35],[-.02,4.3],[-.1,4.28],[.03,4.2],[-.06,4.22],[.07,4.17]],
[[-.1,6.33],[0,6.23],[-.03,6.02],[-.09,5.86],[.07,5.6],[.05,5.55],[-.03,5.33],[0,5.15],[-.06,5.05],[.03,5.08],[-.08,5.02],[.07,5],[0,4.92],[.03,4.88],[-.04,4.8],[.08,4.75],[-.02,4.68],[.04,4.6],[-.06,4.6],[-.02,4.5],[.02,4.45],[.06,4.45],[-.09,4.35],[0,4.35],[.05,4.3],[-.06,4.25],[.03,4.2],[-.02,4.12],[.06,4.05],[-.07,3.98],[.08,3.9],[-.03,3.85],[.04,3.8],[-.08,3.78],[.1,3.75],[-.01,3.67],[.01,3.7]]];

// ---------- Build ----------
const FONT='"Liberation Sans",Arial,sans-serif';
const chart=echarts.init(document.getElementById('c'),null,{renderer:'canvas'});
const grids=[],xAxes=[],yAxes=[],series=[],titles=[],graphics=[];
const PBLUE='#3d4e9e',PRED='#f2181f';
const rowsToPts=rows=>rows.flatMap(r=>r.slice(1).map(x=>[x,r[0]]));

function letter(t,l,top){titles.push({text:t,left:l,top:top,padding:0,textStyle:{fontFamily:FONT,fontWeight:'bold',fontSize:27,color:'#000'}});}
letter('A',0,33);letter('B',739,34);letter('C',1,534);letter('D',1,950);letter('E',1,1365);

// Panel A
grids.push({left:135.9,top:33.3,width:422,height:389.4,show:true,backgroundColor:'#ebebeb',borderWidth:0});
xAxes.push({type:'value',gridIndex:0,min:-4.915,max:6.11,
  axisLine:{show:false},axisTick:{show:true,length:3,lineStyle:{color:'#666'},customValues:volcanoXTicks},
  axisLabel:{customValues:volcanoXTicks,color:'#808080',fontSize:11,margin:6,fontFamily:FONT,formatter:v=>v.toFixed(1)},
  splitLine:{show:true,lineStyle:{color:'#fff',width:1.4}},
  name:'log2 Fold Change',nameLocation:'middle',nameGap:21,nameTextStyle:{color:'#000',fontSize:21,fontFamily:FONT,padding:[0,35,0,0]}});
yAxes.push({type:'value',gridIndex:0,min:-.23,max:5.03,
  axisLine:{show:false},axisTick:{show:true,length:3,lineStyle:{color:'#666'},customValues:volcanoYTicks},
  axisLabel:{customValues:volcanoYTicks,color:'#808080',fontSize:11,margin:6,fontFamily:FONT,verticalAlign:'top',lineHeight:2},
  splitLine:{show:true,lineStyle:{color:'#fff',width:1.4}},
  name:'-log10P-Value',nameLocation:'middle',nameGap:19,nameTextStyle:{color:'#000',fontSize:21,fontFamily:FONT,padding:[0,0,0,22]}});
series.push({type:'custom',name:'minor grid',xAxisIndex:0,yAxisIndex:0,silent:true,z:1,
  data:[...volcanoMinorX.map(v=>[v,0,0]),...volcanoMinorY.map(v=>[0,v,1])],
  renderItem(p,api){const h=api.value(2);
    const a=h?api.coord([-4.915,api.value(1)]):api.coord([api.value(0),-.23]);
    const b=h?api.coord([6.11,api.value(1)]):api.coord([api.value(0),5.03]);
    return {type:'line',shape:{x1:a[0],y1:a[1],x2:b[0],y2:b[1]},style:{stroke:'#fff',lineWidth:.7}};}});
function mass(pts,color,name){series.push({type:'custom',name,xAxisIndex:0,yAxisIndex:0,silent:true,z:2,data:[[0,0]],
  renderItem(p,api){return {type:'polygon',shape:{points:pts.map(q=>api.coord(q))},style:{fill:color}};}});}
function dots(pts,color,name){series.push({type:'scatter',name,xAxisIndex:0,yAxisIndex:0,silent:true,z:3,symbolSize:4.2,data:pts,itemStyle:{color}});}
mass(grayMass,'#bcbcbc','not-significant mass');dots(grayPts.concat(rowsToPts(grayRows)),'#bcbcbc','not-significant');
mass(blueMass,'#0870b7','down-regulated mass');dots(bluePts.concat(rowsToPts(blueRows)),'#0870b7','down-regulated');
mass(redMass,'#c13a27','up-regulated mass');dots(redPts.concat(rowsToPts(redRows)),'#c13a27','up-regulated');
const volcanoColors=['#0870b7','#bcbcbc','#c13a27'];
volcanoNames.forEach((n,i)=>{
  graphics.push({type:'rect',shape:{x:578,y:204+i*18.4,width:19,height:18.4},style:{fill:'#f0f0f0'},z:1});
  graphics.push({type:'circle',shape:{cx:587.5,cy:213+i*18.4,r:1.8},style:{fill:volcanoColors[i]},z:2});
  graphics.push({type:'text',x:599,y:208.5+i*22,style:{text:n,font:'18px '+FONT,fill:'#000',textVerticalAlign:'middle'},z:2});
});

// Panel B heatmap
const hx=xAxes.length;
grids.push({left:1002,top:32.5,width:218,height:1600.5,show:true,borderColor:'#bdbdbd',borderWidth:1,backgroundColor:'transparent'});
xAxes.push({type:'category',gridIndex:hx,data:sampleNames,position:'bottom',axisLine:{show:false},axisTick:{show:false},splitLine:{show:false},
  axisLabel:{rotate:-90,fontSize:22,color:'#000',margin:9,fontFamily:FONT,interval:0}});
yAxes.push({type:'category',gridIndex:hx,data:genes,inverse:true,axisLine:{show:false},axisTick:{show:false},splitLine:{show:false},
  axisLabel:{fontSize:22.3,color:'#000',margin:4,fontFamily:FONT,interval:0,verticalAlign:'top',lineHeight:7}});
const heatData=[];heatValues.forEach((r,i)=>r.forEach((v,j)=>heatData.push([j,i,v])));
const heatSeriesIndex=series.length;
series.push({type:'heatmap',name:'expression',xAxisIndex:hx,yAxisIndex:hx,data:heatData,silent:true,progressive:0,itemStyle:{borderWidth:0}});

// Colour bar
const bx=xAxes.length;
grids.push({left:1328.6,top:32.7,width:31.4,height:476.6,show:false});
xAxes.push({type:'value',gridIndex:bx,min:0,max:1,show:false});
yAxes.push({type:'value',gridIndex:bx,position:'right',min:colorbarRange[0],max:colorbarRange[1],
  axisLine:{show:false},axisTick:{show:false,customValues:colorbarTicks},splitLine:{show:false},
  axisLabel:{customValues:colorbarTicks,fontSize:28,color:'#1f2747',margin:12,fontFamily:FONT,verticalAlign:'top',lineHeight:7,formatter:v=>String(v)}});
series.push({type:'custom',name:'colour scale',xAxisIndex:bx,yAxisIndex:bx,silent:true,data:[[0,colorbarRange[0],1,colorbarRange[1]]],
  renderItem(p,api){const a=api.coord([api.value(0),api.value(3)]),b=api.coord([api.value(2),api.value(1)]);
    return {type:'rect',shape:{x:a[0],y:a[1],width:b[0]-a[0],height:b[1]-a[1]},
      style:{fill:new echarts.graphic.LinearGradient(0,0,0,1,[{offset:0,color:'#00ff00'},{offset:.5,color:'#000000'},{offset:1,color:'#ff0000'}])}};}});

// Panels C, D, E
function violinPanel(cfg){
  const k=xAxes.length;
  grids.push({left:cfg.left,top:cfg.top,width:cfg.width,height:297.4,show:true,borderColor:'#222',borderWidth:1.4,backgroundColor:'transparent'});
  const wk=[1,2,3,4];
  xAxes.push({type:'value',gridIndex:k,min:cfg.xmin,max:cfg.xmax,splitLine:{show:false},
    axisLine:{show:true,lineStyle:{color:'#222',width:1.4}},
    axisTick:{show:true,length:6,lineStyle:{color:'#222',width:1.4},customValues:wk},
    axisLabel:{customValues:wk,fontSize:20.3,color:'#111',margin:11.5,fontFamily:FONT,formatter:v=>weeks[Math.round(v)-1]}});
  yAxes.push({type:'value',gridIndex:k,min:3,max:8,interval:1,splitLine:{show:false},
    axisLine:{show:true,lineStyle:{color:'#222',width:1.4}},
    axisTick:{show:true,length:6,lineStyle:{color:'#222',width:1.4}},
    axisLabel:{fontSize:21,color:'#111',margin:13,fontFamily:FONT,verticalAlign:'top',lineHeight:2},
    name:'LogTacCDR',nameLocation:'middle',nameGap:cfg.nameGap,nameTextStyle:{fontSize:20.8,color:'#111',fontFamily:FONT}});
  titles.push({text:cfg.title,left:cfg.titleX,top:cfg.top-26.5,padding:0,textAlign:'center',textStyle:{fontFamily:FONT,fontWeight:'normal',fontSize:22.5,color:'#111'}});
  const centers=i=>Math.floor(i/2)+1+(i%2?.2:-.2);
  [0,1].forEach(g=>{
    const d=[];cfg.points.forEach((pts,i)=>{if(i%2===g)pts.forEach(q=>d.push([centers(i)+q[0],q[1]]));});
    series.push({type:'scatter',name:cfg.groups[g],xAxisIndex:k,yAxisIndex:k,silent:true,z:3,symbolSize:9,data:d,
      itemStyle:{color:g?PRED:PBLUE,opacity:.36}});
  });
  series.push({type:'custom',name:'violin and box',xAxisIndex:k,yAxisIndex:k,silent:true,z:4,
    data:cfg.boxes.map((b,i)=>[centers(i),...b]),
    renderItem(p,api){
      const i=p.dataIndex,cx=api.value(0),b=[1,2,3,4,5].map(j=>api.value(j)),v=cfg.violins[i],ch=[];
      const L=v.map(q=>api.coord([cx-q[1],q[0]])),R=v.map(q=>api.coord([cx+q[1],q[0]]));
      const vw=(cfg.heavy&&i%2===0)?1.9:1.3;
      const ls={stroke:(cfg.heavy&&i%2===0)?'#1c2452':'#111',lineWidth:vw,fill:null};
      ch.push({type:'polyline',shape:{points:L,smooth:.25},style:ls});
      ch.push({type:'polyline',shape:{points:R,smooth:.25},style:ls});
      const ln=(a,c)=>({type:'line',shape:{x1:a[0],y1:a[1],x2:c[0],y2:c[1]},style:ls});
      ch.push(ln(L[0],R[0]));ch.push(ln(L[L.length-1],R[R.length-1]));
      ch.push(ln(api.coord([cx,b[0]]),api.coord([cx,b[1]])));
      ch.push(ln(api.coord([cx,b[3]]),api.coord([cx,b[4]])));
      const w=.183,tl=api.coord([cx-w,b[3]]),br=api.coord([cx+w,b[1]]);
      ch.push({type:'rect',shape:{x:tl[0],y:tl[1],width:br[0]-tl[0],height:br[1]-tl[1]},style:{stroke:'#111',lineWidth:1.3,fill:null}});
      const m1=api.coord([cx-w,b[2]]),m2=api.coord([cx+w,b[2]]);
      ch.push({type:'line',shape:{x1:m1[0],y1:m1[1],x2:m2[0],y2:m2[1]},style:{stroke:'#111',lineWidth:2.6}});
      return {type:'group',children:ch};}});
  series.push({type:'custom',name:'p values',xAxisIndex:k,yAxisIndex:k,silent:true,z:5,
    data:cfg.pLabels.map((t,i)=>[i+1,pLineLevels[i],t]),
    renderItem(p,api){const w=api.value(0),y=api.value(1),a=api.coord([w-.2,y]),c=api.coord([w+.2,y]);
      return {type:'group',children:[
        {type:'line',shape:{x1:a[0],y1:a[1],x2:c[0],y2:c[1]},style:{stroke:'#111',lineWidth:1.4}},
        {type:'text',x:(a[0]+c[0])/2,y:a[1]+1,style:{text:cfg.pLabels[p.dataIndex],font:'19.5px '+FONT,fill:'#111',textAlign:'center',textVerticalAlign:'bottom'}}]};}});
  // legend keys
  const lx=cfg.legendX,ly=cfg.top+120.5;
  cfg.groups.forEach((n,i)=>{
    const y0=ly+i*18.2;
    graphics.push({type:'rect',shape:{x:lx,y:y0,width:15.5,height:18.2},style:{fill:'#fff',stroke:'#111',lineWidth:2.2},z:1});
    [4.5,13.7].forEach(o=>graphics.push({type:'line',shape:{x1:lx,y1:y0+o,x2:lx+15.5,y2:y0+o},style:{stroke:'#111',lineWidth:1.7},z:1}));
    graphics.push({type:'rect',shape:{x:lx+3,y:y0+6.2,width:9.5,height:5.8},style:{fill:i?'#f47a7e':'#9aa4cf'},z:2});
    graphics.push({type:'text',x:cfg.legendTextX,y:y0+9,style:{text:n,font:'18.5px '+FONT,fill:'#111',textVerticalAlign:'middle'},z:2});
  });
}
violinPanel({left:131.7,top:544.3,width:439.2,xmin:.395,xmax:4.595,nameGap:31,title:cTitle,titleX:353,groups:cGroups,boxes:cBoxes,violins:cViolins,points:cPoints,pLabels:cPLabels,legendX:578,legendTextX:601.5});
violinPanel({left:124.8,top:964.3,width:469.2,xmin:.402,xmax:4.595,nameGap:31,heavy:true,title:dTitle,titleX:361,groups:dGroups,boxes:dBoxes,violins:dViolins,points:dPoints,pLabels:dPLabels,legendX:600,legendTextX:624});
violinPanel({left:131.7,top:1384.3,width:439.2,xmin:.395,xmax:4.595,nameGap:31,title:eTitle,titleX:353,groups:eGroups,boxes:eBoxes,violins:eViolins,points:ePoints,pLabels:ePLabels,legendX:578,legendTextX:601.5});

chart.setOption({
  animation:false,backgroundColor:'#fff',textStyle:{fontFamily:FONT},
  title:titles,grid:grids,xAxis:xAxes,yAxis:yAxes,series,
  visualMap:{type:'continuous',show:false,min:-1.5,max:1.5,seriesIndex:heatSeriesIndex,inRange:{color:['#ff0000','#000000','#00ff00']}},
  graphic:graphics
});
</script></body></html>
